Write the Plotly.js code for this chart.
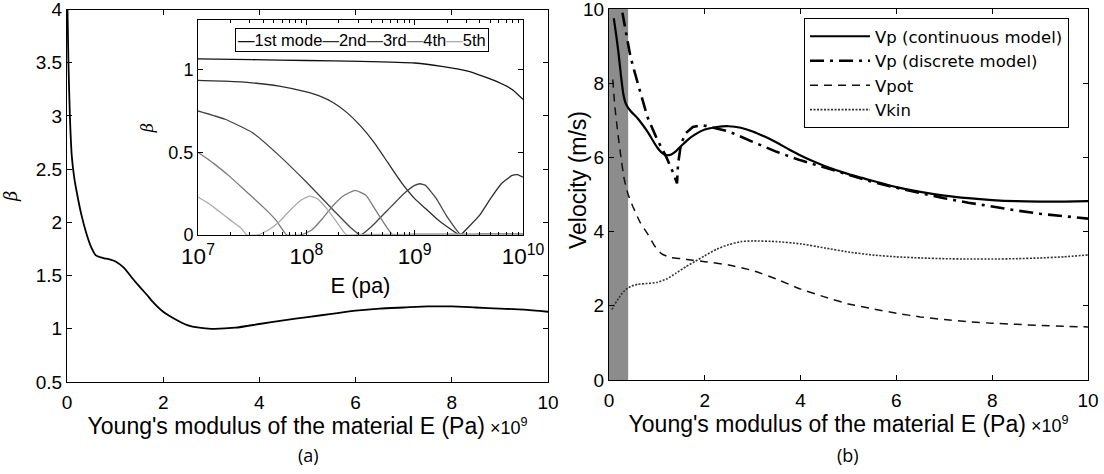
<!DOCTYPE html>
<html>
<head>
<meta charset="utf-8">
<script src="https://cdn.plot.ly/plotly-3.0.1.min.js"></script>
<style>html,body{margin:0;padding:0;background:#fff;}#chart{width:1104px;height:474px;}</style>
</head>
<body>
<div id="chart"></div>
<script>
// ---------- (a) main curve: beta vs E (x 1e9 Pa) ----------
const betaE   = [0.01,0.03,0.06,0.1,0.15,0.2,0.3,0.4,0.5,0.6,0.7,0.8,0.9,1.0,1.1,1.2,1.35,1.5,1.66,1.75,2.0,2.25,2.5,2.75,3.0,3.5,4.0,4.5,5.0,5.5,6.0,6.5,7.0,7.5,8.0,8.5,9.0,9.5,10.0];
const betaVal = [4.0,3.5,3.0,2.62,2.42,2.29,2.07,1.9,1.77,1.69,1.67,1.66,1.65,1.635,1.605,1.565,1.48,1.4,1.32,1.27,1.16,1.09,1.035,1.01,1.0,1.01,1.045,1.08,1.11,1.14,1.17,1.19,1.2,1.21,1.21,1.2,1.19,1.18,1.16];

// ---------- (a) inset: beta per mode vs log10(E) ----------
const modeNames = ['1st mode','2nd','3rd','4th','5th'];
const modeColors = ['#111111','#2e2e2e','#444444','#7a7a7a','#ababab'];
const mode1LogE = [7,7.5,8,8.5,9,9.25,9.5,9.75,9.9,10];
const mode1Beta = [1.065,1.06,1.055,1.05,1.04,1.02,0.99,0.93,0.88,0.82];
const mode2LogE = [7,7.25,7.5,7.75,8,8.125,8.25,8.375,8.5,8.625,8.75,8.875,9,9.1,9.2,9.3,9.42,9.5,9.6,9.7,9.8,9.9,9.95,10];
const mode2Beta = [0.935,0.93,0.92,0.9,0.865,0.84,0.8,0.74,0.66,0.56,0.44,0.32,0.22,0.16,0.1,0.05,0,0.05,0.12,0.22,0.31,0.36,0.365,0.35];
const mode3LogE = [7,7.25,7.5,7.75,8,8.25,8.4,8.5,8.6,8.75,8.9,9.0,9.05,9.1,9.2,9.3,9.43,9.6,10];
const mode3Beta = [0.75,0.7,0.62,0.48,0.32,0.15,0.05,0,0.05,0.15,0.25,0.3,0.31,0.3,0.22,0.11,0,0.005,0.005];
const mode4LogE = [7,7.15,7.3,7.45,7.6,7.72,7.82,7.95,8.05,8.15,8.25,8.35,8.45,8.55,8.65,8.8,9,10];
const mode4Beta = [0.5,0.43,0.35,0.26,0.17,0.09,0,0,0.03,0.1,0.18,0.24,0.27,0.24,0.14,0,0.005,0.005];
const mode5LogE = [7,7.1,7.2,7.3,7.4,7.45,7.55,7.65,7.75,7.85,7.95,8.03,8.1,8.2,8.3,8.37,8.5,10];
const mode5Beta = [0.23,0.19,0.14,0.09,0.04,0,0,0.03,0.08,0.15,0.21,0.235,0.22,0.15,0.06,0,0.003,0.003];

// ---------- (b) velocities vs E (x 1e9 Pa) ----------
const shadedE = [0, 0.4];
const vpContE = [0.1,0.15,0.2,0.25,0.3,0.35,0.45,0.6,0.8,1.0,1.1,1.2,1.3,1.4,1.5,1.65,1.8,2.0,2.25,2.5,2.75,3.0,3.25,3.5,3.75,4.0,4.25,4.5,5.0,5.5,6.0,6.5,7.0,7.5,8.0,8.5,9.0,9.5,10.0];
const vpContV = [9.75,9.3,8.8,8.2,7.7,7.45,7.25,7.05,6.7,6.28,6.13,6.06,6.08,6.17,6.3,6.48,6.62,6.75,6.82,6.84,6.8,6.7,6.56,6.4,6.22,6.05,5.9,5.77,5.55,5.37,5.2,5.07,4.97,4.9,4.85,4.82,4.81,4.81,4.82];
const vpDiscE = [0.28,0.35,0.45,0.6,0.8,1.0,1.2,1.35,1.42,1.44,1.5,1.6,1.75,1.95,2.2,2.5,3.0,3.5,4.0,4.5,5.0,5.5,6.0,6.5,7.0,7.5,8.0,8.5,9.0,9.5,10.0];
const vpDiscV = [9.9,9.4,8.7,8.0,7.1,6.5,6.0,5.55,5.3,5.8,6.35,6.65,6.82,6.87,6.8,6.7,6.42,6.15,5.92,5.72,5.52,5.34,5.18,5.03,4.9,4.78,4.67,4.57,4.48,4.41,4.35];
const vpotE = [0.08,0.12,0.18,0.25,0.32,0.4,0.5,0.65,0.8,0.95,1.1,1.3,1.5,1.75,2.0,2.5,3.0,3.5,4.0,4.5,5.0,5.5,6.0,6.5,7.0,7.5,8.0,8.5,9.0,9.5,10.0];
const vpotV = [8.1,7.4,6.7,6.0,5.4,5.0,4.67,4.25,3.95,3.62,3.4,3.3,3.27,3.23,3.19,3.1,2.95,2.72,2.45,2.24,2.05,1.92,1.8,1.7,1.63,1.57,1.53,1.5,1.47,1.45,1.43];
const vkinE = [0.06,0.1,0.2,0.3,0.45,0.6,0.8,1.0,1.2,1.4,1.6,1.8,2.0,2.25,2.5,2.75,3.0,3.5,4.0,4.5,5.0,5.5,6.0,6.5,7.0,7.5,8.0,8.5,9.0,9.5,10.0];
const vkinV = [1.9,2.0,2.2,2.38,2.52,2.58,2.6,2.63,2.72,2.88,3.05,3.2,3.35,3.53,3.65,3.73,3.75,3.73,3.67,3.56,3.45,3.37,3.32,3.29,3.27,3.26,3.26,3.27,3.29,3.32,3.37];

// ---------- tick labels ----------
const xTicksLin = [0,2,4,6,8,10];
const yTicksA = [0.5,1,1.5,2,2.5,3,3.5,4];
const yTicksInset = [0,0.5,1];
const yTicksB = [0,2,4,6,8,10];

const W = 1104, H = 474;
const px = v => v / W;
const py = v => 1 - v / H;

const tickFont = {family: 'Liberation Sans, Arial, sans-serif', size: 19, color: '#000'};
const titleFont = {family: 'Liberation Sans, Arial, sans-serif', size: 23, color: '#000'};

const baseAxis = {
  showline: true, linecolor: '#000', linewidth: 1, mirror: 'ticks',
  ticks: 'inside', ticklen: 5, tickcolor: '#000', tickwidth: 1,
  showgrid: false, zeroline: false, tickfont: tickFont, automargin: false,
  ticklabeloverflow: 'allow'
};

const modeLogE = [mode1LogE, mode2LogE, mode3LogE, mode4LogE, mode5LogE];
const modeBeta = [mode1Beta, mode2Beta, mode3Beta, mode4Beta, mode5Beta];

const traces = [];
traces.push({x: betaE, y: betaVal, xaxis: 'x', yaxis: 'y', mode: 'lines', showlegend: false,
  line: {color: '#000', width: 1.8, shape: 'spline', smoothing: 0.6}, name: 'beta'});

for (let i = 0; i < 5; i++) {
  traces.push({x: modeLogE[i].map(v => Math.pow(10, v)), y: modeBeta[i], xaxis: 'x2', yaxis: 'y2',
    mode: 'lines', showlegend: false, name: modeNames[i],
    line: {color: modeColors[i], width: 1.3, shape: 'spline', smoothing: 0.4}});
}

traces.push({x: vpContE, y: vpContV, xaxis: 'x3', yaxis: 'y3', mode: 'lines', name: 'Vp (continuous model)',
  line: {color: '#000', width: 2.2, shape: 'spline', smoothing: 0.6}});
traces.push({x: vpDiscE, y: vpDiscV, xaxis: 'x3', yaxis: 'y3', mode: 'lines', name: 'Vp (discrete model)',
  line: {color: '#000', width: 2.6, dash: '14px,6px,3px,6px'}});
traces.push({x: vpotE, y: vpotV, xaxis: 'x3', yaxis: 'y3', mode: 'lines', name: 'Vpot',
  line: {color: '#111', width: 1.5, dash: '8px,6px', shape: 'spline', smoothing: 0.5}});
traces.push({x: vkinE, y: vkinV, xaxis: 'x3', yaxis: 'y3', mode: 'lines', name: 'Vkin',
  line: {color: '#333', width: 1.6, dash: '2px,1.5px', shape: 'spline', smoothing: 0.5}});

let insetLegend = '';
for (let i = 0; i < 5; i++) {
  insetLegend += '<span style="color:' + modeColors[i] + '">\u2014</span>' + modeNames[i];
}

const xTitle = 'Young\'s modulus of the material E (Pa)<span style="font-size:18px"> \u00d710<sup>9</sup></span>';

const layout = {
  width: W, height: H,
  margin: {l: 0, r: 0, t: 0, b: 0},
  paper_bgcolor: '#fff', plot_bgcolor: '#fff',
  showlegend: true,
  xaxis: Object.assign({}, baseAxis, {
    domain: [px(67), px(548)], range: [0, 10], tickvals: xTicksLin, anchor: 'y', ticklabelstandoff: 3,
    title: {text: xTitle, font: titleFont, standoff: 5}
  }),
  yaxis: Object.assign({}, baseAxis, {
    domain: [py(382), py(9.5)], range: [0.5, 4], tickvals: yTicksA, anchor: 'x',
    title: {text: '<i>\u03b2</i>', font: {family: 'DejaVu Serif, serif', size: 18, color: '#000'}, standoff: 14}
  }),
  xaxis2: Object.assign({}, baseAxis, {
    domain: [px(198), px(523)], type: 'log', range: [7, 10], dtick: 1, anchor: 'y2',
    exponentformat: 'power', showexponent: 'all', ticklabelstandoff: 2,
    tickfont: {family: 'Liberation Sans, Arial, sans-serif', size: 18, color: '#000'},
    minor: {ticks: 'inside', ticklen: 3, tickcolor: '#000', dtick: 'D1', showgrid: false},
    title: {text: 'E (pa)', font: {family: 'Liberation Sans, Arial, sans-serif', size: 22, color: '#000'}, standoff: 9}
  }),
  yaxis2: Object.assign({}, baseAxis, {
    domain: [py(235), py(20)], range: [0, 1.3], tickvals: yTicksInset, anchor: 'x2',
    tickfont: {family: 'Liberation Sans, Arial, sans-serif', size: 18, color: '#000'},
    title: {text: '<i>\u03b2</i>', font: {family: 'DejaVu Serif, serif', size: 16, color: '#000'}, standoff: 10}
  }),
  xaxis3: Object.assign({}, baseAxis, {
    domain: [px(609), px(1088)], range: [0, 10], tickvals: xTicksLin, anchor: 'y3', ticklabelstandoff: 3,
    title: {text: xTitle, font: titleFont, standoff: 5}
  }),
  yaxis3: Object.assign({}, baseAxis, {
    domain: [py(380), py(9)], range: [0, 10], tickvals: yTicksB, anchor: 'x3',
    title: {text: '', font: titleFont}
  }),
  legend: {
    x: px(804), y: py(18), xanchor: 'left', yanchor: 'top',
    bgcolor: '#fff', bordercolor: '#000', borderwidth: 1,
    font: {family: 'DejaVu Sans, sans-serif', size: 16.5, color: '#000'},
    itemwidth: 60, tracegroupgap: 0
  },
  shapes: [{
    type: 'rect', xref: 'x3', yref: 'y3', x0: shadedE[0], x1: shadedE[1], y0: 0, y1: 10,
    fillcolor: '#8c8c8c', line: {width: 0}, layer: 'below'
  }],
  annotations: [
    {xref: 'paper', yref: 'paper', x: px(362), y: py(40), xanchor: 'center', yanchor: 'middle',
     text: insetLegend, showarrow: false, bgcolor: '#fff', bordercolor: '#000', borderwidth: 1, borderpad: 2,
     font: {family: 'Liberation Sans, Arial, sans-serif', size: 16.5, color: '#000'}},
    {xref: 'paper', yref: 'paper', x: px(578), y: py(180), xanchor: 'center', yanchor: 'middle', textangle: -90,
     text: 'Velocity (m/s)', showarrow: false, font: {family: 'Liberation Sans, Arial, sans-serif', size: 23, color: '#000'}},
    {xref: 'paper', yref: 'paper', x: px(308), y: py(455), xanchor: 'center', yanchor: 'middle',
     text: '(a)', showarrow: false, font: {family: 'Open Sans, sans-serif', size: 18, color: '#000'}},
    {xref: 'paper', yref: 'paper', x: px(848), y: py(455), xanchor: 'center', yanchor: 'middle',
     text: '(b)', showarrow: false, font: {family: 'Open Sans, sans-serif', size: 18, color: '#000'}}
  ]
};

Plotly.newPlot('chart', traces, layout, {staticPlot: true, displayModeBar: false});
</script>
</body>
</html>
